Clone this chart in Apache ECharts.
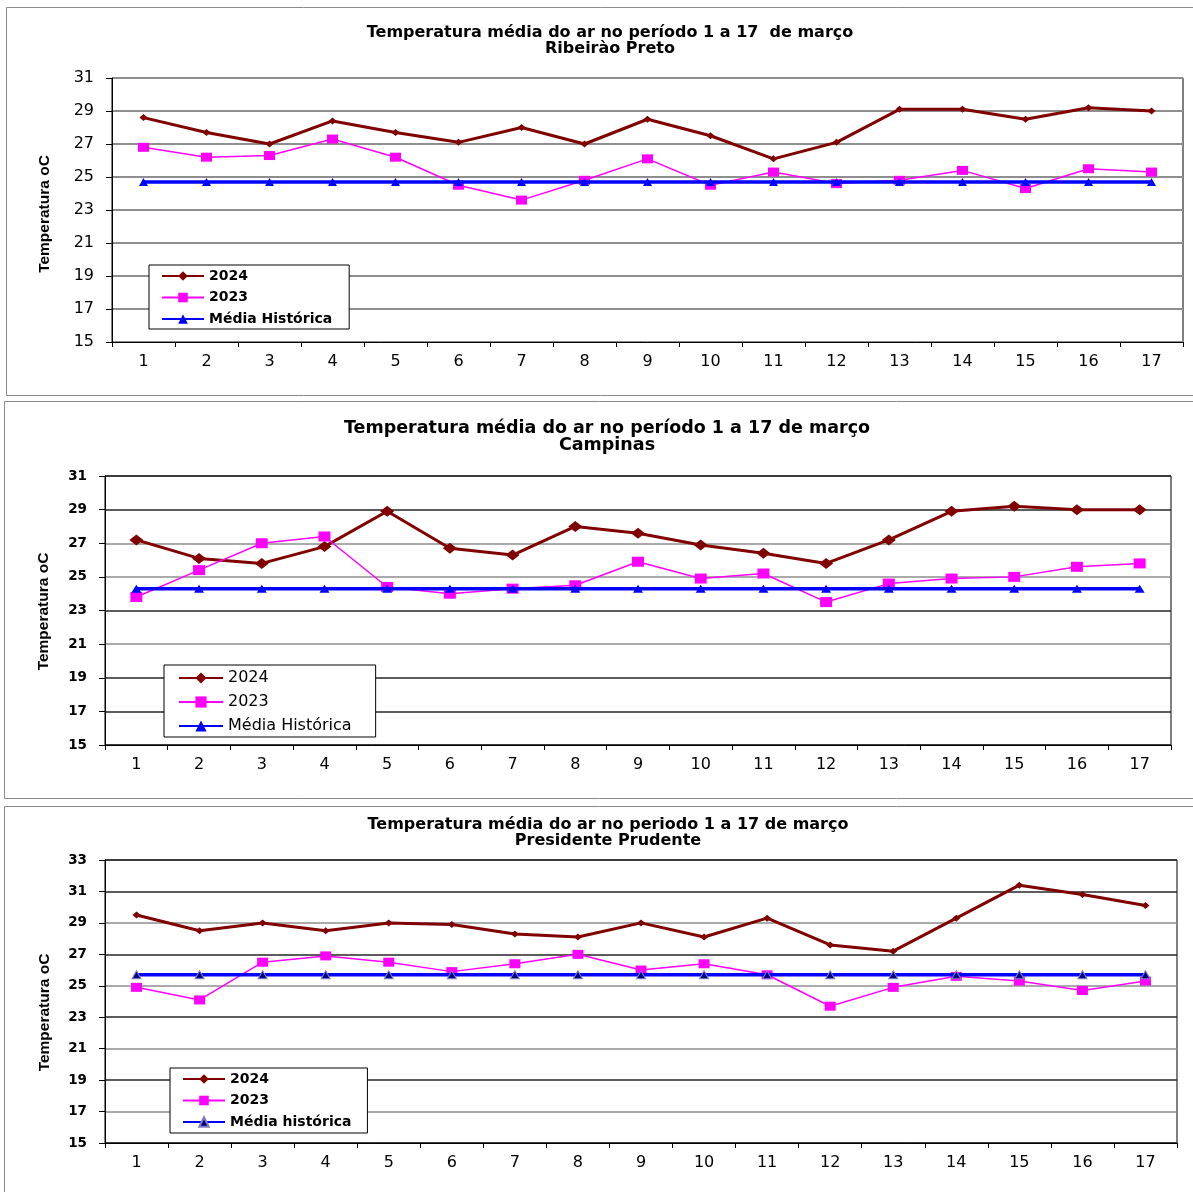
<!DOCTYPE html>
<html><head><meta charset="utf-8">
<script src="https://cdn.jsdelivr.net/npm/echarts@6/dist/echarts.min.js"></script>
<style>
html,body{margin:0;padding:0;background:#fff;width:1193px;height:1192px;overflow:hidden;}
.c{position:absolute;left:0;width:1193px;}
</style></head><body>
<div id="c1" class="c" style="top:0;height:398px"></div>
<div id="c2" class="c" style="top:398px;height:402px"></div>
<div id="c3" class="c" style="top:800px;height:392px"></div>
<script>
// ---- categories (days of March) ----
const days = ['1','2','3','4','5','6','7','8','9','10','11','12','13','14','15','16','17'];

// ---- Ribeirão Preto ----
const rpTitle = 'Temperatura média do ar no período 1 a 17  de março\nRibeirào Preto';
const rp2024 = [28.6, 27.7, 27.0, 28.4, 27.7, 27.1, 28.0, 27.0, 28.5, 27.5, 26.1, 27.1, 29.1, 29.1, 28.5, 29.2, 29.0];
const rp2023 = [26.8, 26.2, 26.3, 27.3, 26.2, 24.5, 23.6, 24.8, 26.1, 24.5, 25.3, 24.6, 24.8, 25.4, 24.3, 25.5, 25.3];
const rpMedia = [24.7, 24.7, 24.7, 24.7, 24.7, 24.7, 24.7, 24.7, 24.7, 24.7, 24.7, 24.7, 24.7, 24.7, 24.7, 24.7, 24.7];
const rpNames = ['2024', '2023', 'Média Histórica'];

// ---- Campinas ----
const caTitle = 'Temperatura média do ar no período 1 a 17 de março\nCampinas';
const ca2024 = [27.2, 26.1, 25.8, 26.8, 28.9, 26.7, 26.3, 28.0, 27.6, 26.9, 26.4, 25.8, 27.2, 28.9, 29.2, 29.0, 29.0];
const ca2023 = [23.8, 25.4, 27.0, 27.4, 24.4, 24.0, 24.3, 24.5, 25.9, 24.9, 25.2, 23.5, 24.6, 24.9, 25.0, 25.6, 25.8];
const caMedia = [24.3, 24.3, 24.3, 24.3, 24.3, 24.3, 24.3, 24.3, 24.3, 24.3, 24.3, 24.3, 24.3, 24.3, 24.3, 24.3, 24.3];
const caNames = ['2024', '2023', 'Média Histórica'];

// ---- Presidente Prudente ----
const ppTitle = 'Temperatura média do ar no periodo 1 a 17 de março\nPresidente Prudente';
const pp2024 = [29.5, 28.5, 29.0, 28.5, 29.0, 28.9, 28.3, 28.1, 29.0, 28.1, 29.3, 27.6, 27.2, 29.3, 31.4, 30.8, 30.1];
const pp2023 = [24.9, 24.1, 26.5, 26.9, 26.5, 25.9, 26.4, 27.0, 26.0, 26.4, 25.7, 23.7, 24.9, 25.6, 25.3, 24.7, 25.3];
const ppMedia = [25.7, 25.7, 25.7, 25.7, 25.7, 25.7, 25.7, 25.7, 25.7, 25.7, 25.7, 25.7, 25.7, 25.7, 25.7, 25.7, 25.7];
const ppNames = ['2024', '2023', 'Média histórica'];

// ---- y axis ranges ----
const yRange1 = [15, 31];
const yRange2 = [15, 31];
const yRange3 = [15, 33];
const yStep = 2;
const yName = 'Temperatura oC';

const G = '#8e8e8e', D = '#262626';

function build(c) {
  return {
    animation: false,
    backgroundColor: '#fff',
    graphic: [{
      type: 'rect', silent: true, z: -10,
      shape: { x: c.box[0] + 0.5, y: c.box[1] + 0.5, width: 1300, height: c.box[2] },
      style: { fill: 'none', stroke: '#8a8a8a', lineWidth: 1 }
    }],
    title: {
      text: c.title, left: c.titleX, top: c.titleTop, textAlign: 'center', padding: 0,
      textStyle: { fontFamily: 'DejaVu Sans', fontWeight: 'bold', fontSize: c.titleSize, lineHeight: c.titleLH, color: '#000' }
    },
    grid: {
      left: c.grid[0], top: c.grid[1], width: c.grid[2], height: c.grid[3],
      show: true, borderColor: '#000', borderWidth: 1, backgroundColor: 'transparent',
      containLabel: false, outerBoundsMode: 'none'
    },
    legend: {
      orient: 'vertical', left: c.leg[0], top: c.leg[1], padding: c.legPad,
      itemWidth: c.legIW, itemHeight: c.legIH, itemGap: c.legGap,
      borderColor: '#000', borderWidth: 1, backgroundColor: '#fff', borderRadius: 0,
      selectedMode: false, data: c.names,
      textStyle: { fontFamily: 'DejaVu Sans', fontWeight: c.legBold ? 'bold' : 'normal', fontSize: c.legFS, color: '#000' }
    },
    xAxis: {
      type: 'category', data: days, boundaryGap: true,
      axisLine: { show: true, lineStyle: { color: '#000', width: 1 } },
      axisTick: { show: true, alignWithLabel: false, length: 5, lineStyle: { color: '#000' } },
      axisLabel: { margin: 11.5, fontFamily: 'DejaVu Sans', fontSize: 16, color: '#000', interval: 0 },
      splitLine: { show: false }
    },
    yAxis: {
      type: 'value', min: c.yr[0], max: c.yr[1], interval: yStep,
      name: yName, nameLocation: 'middle', nameGap: c.nameGap, nameRotate: 90, nameMoveOverlap: false,
      nameTextStyle: { fontFamily: 'Liberation Sans', fontWeight: 'bold', fontSize: 15.5, color: '#000', padding: c.namePad },
      axisLine: { show: true, lineStyle: { color: '#000', width: 1 } },
      axisTick: { show: true, length: 6, lineStyle: { color: '#000' } },
      axisLabel: { margin: 18, fontFamily: 'DejaVu Sans', fontWeight: c.yBold ? 'bold' : 'normal', fontSize: c.yFS, color: '#000' },
      splitLine: { show: true, lineStyle: { color: c.gridCol, width: c.gridW } }
    },
    series: [
      { name: c.names[0], type: 'line', data: c.d24, symbol: 'diamond', symbolSize: c.dSize,
        lineStyle: { color: '#800000', width: 3 }, itemStyle: { color: '#800000' },
        emphasis: { disabled: true }, z: 3 },
      { name: c.names[1], type: 'line', data: c.d23, symbol: 'rect', symbolSize: c.sSize,
        lineStyle: { color: '#FF00FF', width: 1.5 }, itemStyle: { color: '#FF00FF' },
        emphasis: { disabled: true }, z: 4 },
      { name: c.names[2], type: 'line', data: c.dm, symbol: 'triangle', symbolSize: c.tSize,
        lineStyle: { color: '#0000FF', width: 3.5 }, itemStyle: c.tStyle,
        emphasis: { disabled: true }, z: 5 }
    ]
  };
}

const cfg1 = {
  box: [6, 7, 388], title: rpTitle, titleX: 610, titleTop: 25, titleSize: 16, titleLH: 16,
  grid: [112, 78, 1071, 264], yr: yRange1, nameGap: 59, namePad: [0, 8, 0, 0], yBold: false, yFS: 16,
  gridCol: [G], gridW: 2,
  leg: [149, 265], legPad: [4, 17, 3, 12], legIW: 42, legIH: 12, legGap: 7.5, legBold: true, legFS: 14,
  names: rpNames, d24: rp2024, d23: rp2023, dm: rpMedia,
  dSize: [8, 7], sSize: [11, 9], tSize: [9, 8], tStyle: { color: '#0000FF' }
};
const cfg2 = {
  box: [4, 3, 397], title: caTitle, titleX: 607, titleTop: 21.5, titleSize: 17.5, titleLH: 17,
  grid: [105, 78, 1066, 269], yr: yRange2, nameGap: 53, namePad: [0, 2, 0, 0], yBold: true, yFS: 13.5,
  gridCol: [D, D, D, G, D, G, G, D, D], gridW: 1.5,
  leg: [164, 267], legPad: [5, 24, 3, 14], legIW: 44, legIH: 14, legGap: 8, legBold: false, legFS: 16,
  names: caNames, d24: ca2024, d23: ca2023, dm: caMedia,
  dSize: [14, 11], sSize: [12, 10], tSize: [10, 8], tStyle: { color: '#0000FF' }
};
const cfg3 = {
  box: [4, 6, 420], title: ppTitle, titleX: 608, titleTop: 17, titleSize: 16, titleLH: 16,
  grid: [105, 60, 1072, 283], yr: yRange3, nameGap: 52, namePad: [0, 22, 0, 0], yBold: true, yFS: 13.5,
  gridCol: [D, G, D, G, D, G, D, G, D, D], gridW: 1.5,
  leg: [170, 268], legPad: [4, 16, 4, 12], legIW: 42, legIH: 12, legGap: 7.5, legBold: true, legFS: 14,
  names: ppNames, d24: pp2024, d23: pp2023, dm: ppMedia,
  dSize: [8, 7], sSize: [11, 9], tSize: [9, 8], tStyle: { color: '#000080', borderColor: '#7f7fbf', borderWidth: 1 }
};

echarts.init(document.getElementById('c1'), null, { renderer: 'canvas' }).setOption(build(cfg1));
echarts.init(document.getElementById('c2'), null, { renderer: 'canvas' }).setOption(build(cfg2));
echarts.init(document.getElementById('c3'), null, { renderer: 'canvas' }).setOption(build(cfg3));
</script>
</body></html>
